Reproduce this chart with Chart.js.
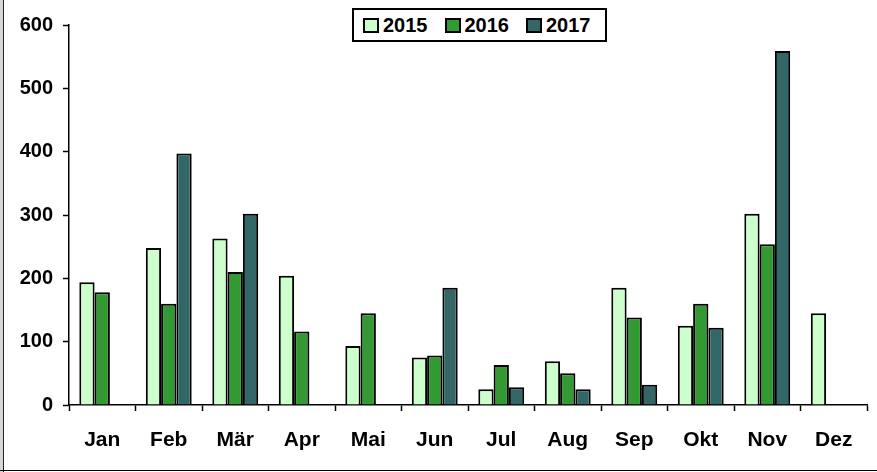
<!DOCTYPE html>
<html lang="de">
<head>
  <meta charset="UTF-8">
  <title>Monatswerte 2015-2017</title>
  <script src="https://cdn.jsdelivr.net/npm/chart.js"></script>
  <style>
    html, body { margin: 0; padding: 0; background: #fff; }
    body { width: 877px; height: 472px; position: relative; overflow: hidden; }
    /* Rahmen links und unten */
    #rand-links { position: absolute; left: 0; top: 0; width: 3px; height: 472px; background: #d6d6d6; border-right: 1px solid #222; }
    #rand-unten { position: absolute; left: 0; top: 470px; width: 877px; height: 1px; background: #000; }
    #wrap { position: absolute; left: 0; top: 0; width: 877px; height: 472px; }
    #legende {
      position: absolute; left: 352px; top: 8px; width: 242px; height: 30px;
      border: 2px solid #000; background: #fff;
      display: flex; align-items: center; padding-left: 9px; box-sizing: content-box;
      font-family: "Liberation Sans", Arial, sans-serif; font-weight: bold; font-size: 20px;
    }
    #legende .eintrag { display: flex; align-items: center; margin-right: 17px; }
    #legende .box { width: 16px; height: 15px; border: 2px solid #000; margin-right: 4px; box-sizing: border-box; }
  </style>
</head>
<body>
  <div id="rand-links"></div>
  <div id="wrap"><canvas id="grafik"></canvas></div>
  <div id="rand-unten"></div>
  <div id="legende"></div>

  <script>
    // Daten
    const monate = ["Jan", "Feb", "Mär", "Apr", "Mai", "Jun", "Jul", "Aug", "Sep", "Okt", "Nov", "Dez"];
    const jahre = ["2015", "2016", "2017"];
    const werte2015 = [194, 248, 263, 204, 93, 75, 25, 69, 185, 125, 302, 145];
    const werte2016 = [178, 160, 210, 116, 145, 78, 63, 50, 138, 160, 254, null];
    const werte2017 = [null, 397, 302, null, null, 185, 28, 25, 32, 122, 559, null];
    const yTicks = [0, 100, 200, 300, 400, 500, 600];

    const farben = ["#ccffcc", "#339933", "#336666"];
    const schrift = "'Liberation Sans', Arial, sans-serif";

    const reihen = [werte2015, werte2016, werte2017].map((werte, i) => ({
      label: jahre[i],
      data: werte,
      backgroundColor: farben[i],
      borderColor: "#000",
      borderWidth: 2,
      borderSkipped: "bottom",
      categoryPercentage: 0.69,
      barPercentage: 1
    }));

    new Chart(document.getElementById("grafik"), {
      type: "bar",
      data: { labels: monate, datasets: reihen },
      options: {
        responsive: true,
        maintainAspectRatio: false,
        animation: false,
        layout: { padding: { top: 25, right: 10, bottom: 0, left: 0 } },
        plugins: {
          legend: { display: false },
          tooltip: { enabled: false }
        },
        scales: {
          x: {
            offset: true,
            grid: { offset: true, drawOnChartArea: false, drawTicks: true, tickLength: 6, tickColor: "#000", tickWidth: 1.5 },
            border: { display: true, color: "#000", width: 1.5 },
            ticks: { color: "#000", padding: 17, font: { family: schrift, size: 21, weight: "bold" } },
            afterFit: s => { s.height = 67; }
          },
          y: {
            min: 0,
            max: 600,
            afterBuildTicks: s => { s.ticks = yTicks.map(v => ({ value: v })); },
            grid: { drawOnChartArea: false, drawTicks: true, tickLength: 6, tickColor: "#000", tickWidth: 1.5 },
            border: { display: true, color: "#000", width: 1.5 },
            ticks: { color: "#000", padding: 10, font: { family: schrift, size: 20, weight: "bold" } },
            afterFit: s => { s.width = 69; }
          }
        }
      }
    });

    // Legende mit Rahmen oben in der Mitte
    const legende = document.getElementById("legende");
    jahre.forEach((jahr, i) => {
      const eintrag = document.createElement("div");
      eintrag.className = "eintrag";
      const box = document.createElement("span");
      box.className = "box";
      box.style.background = farben[i];
      const text = document.createElement("span");
      text.textContent = jahr;
      eintrag.appendChild(box);
      eintrag.appendChild(text);
      legende.appendChild(eintrag);
    });
  </script>
</body>
</html>
